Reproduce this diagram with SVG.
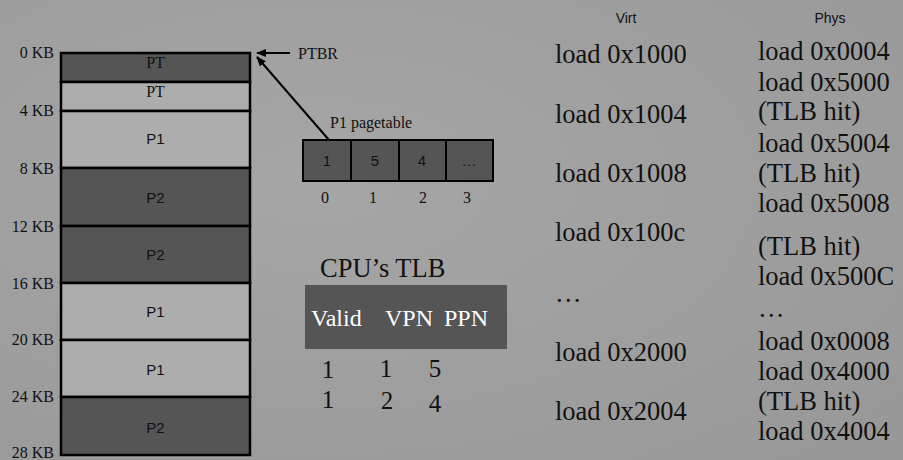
<svg xmlns="http://www.w3.org/2000/svg" width="903" height="460" viewBox="0 0 903 460">
<defs>
<radialGradient id="bg" cx="0.35" cy="0.4" r="0.8">
<stop offset="0" stop-color="#a6a6a6"/>
<stop offset="1" stop-color="#999999"/>
</radialGradient>
<marker id="ah" viewBox="0 0 10 10" refX="9" refY="5" markerWidth="10" markerHeight="10" markerUnits="userSpaceOnUse" orient="auto">
<path d="M0,1 L10,5 L0,9 Z" fill="#000"/>
</marker>
</defs>
<style>
.dark{fill:#555555;stroke:#000;stroke-width:2.5}
.light{fill:#adadad;stroke:#000;stroke-width:2.5}
.cell{fill:#555555;stroke:#000;stroke-width:2}
.serif{font-family:"Liberation Serif","Times New Roman",serif;fill:#111}
.sans{font-family:"Liberation Sans",Arial,sans-serif;fill:#111}
.kb{font-size:16px;text-anchor:end}
.pt{font-size:16px;text-anchor:middle}
.blk{font-size:15px;text-anchor:middle}
.big{font-size:26.5px}
.mid{text-anchor:middle}
.wht{fill:#ffffff}
.conn{stroke:#000;stroke-width:2;fill:none}
</style>
<rect width="903" height="460" fill="url(#bg)"/>

<g id="memory">
<rect class="dark" x="61" y="53" width="189" height="29"/>
<rect class="light" x="61" y="82" width="189" height="29"/>
<rect class="light" x="61" y="111" width="189" height="57"/>
<rect class="dark" x="61" y="168" width="189" height="58"/>
<rect class="dark" x="61" y="226" width="189" height="57"/>
<rect class="light" x="61" y="283" width="189" height="57"/>
<rect class="light" x="61" y="340" width="189" height="57"/>
<rect class="dark" x="61" y="397" width="189" height="58"/>
<text class="serif pt" x="155.5" y="68">PT</text>
<text class="serif pt" x="155.5" y="97">PT</text>
<text class="sans blk" x="155.5" y="144">P1</text>
<text class="sans blk" x="155.5" y="203">P2</text>
<text class="sans blk" x="155.5" y="260">P2</text>
<text class="sans blk" x="155.5" y="317">P1</text>
<text class="sans blk" x="155.5" y="375">P1</text>
<text class="sans blk" x="155.5" y="433">P2</text>
</g>

<g id="kb-labels">
<text class="serif kb" x="54" y="58">0 KB</text>
<text class="serif kb" x="54" y="116">4 KB</text>
<text class="serif kb" x="54" y="174">8 KB</text>
<text class="serif kb" x="54" y="232">12 KB</text>
<text class="serif kb" x="54" y="289">16 KB</text>
<text class="serif kb" x="54" y="345">20 KB</text>
<text class="serif kb" x="54" y="402">24 KB</text>
<text class="serif kb" x="54" y="458">28 KB</text>
</g>

<g id="ptbr">
<text class="serif" font-size="16" x="298" y="59">PTBR</text>
</g>

<g id="pagetable">
<text class="serif" font-size="16" x="330" y="128">P1 pagetable</text>
<rect class="cell" x="303" y="140" width="48" height="41"/>
<rect class="cell" x="351" y="140" width="48" height="41"/>
<rect class="cell" x="399" y="140" width="47" height="41"/>
<rect class="cell" x="446" y="140" width="47" height="41"/>
<text class="sans blk" x="327" y="166">1</text>
<text class="sans blk" x="375" y="166">5</text>
<text class="sans blk" x="422" y="166">4</text>
<text class="sans blk" x="469" y="166">…</text>
<text class="serif pt" x="325" y="203">0</text>
<text class="serif pt" x="373" y="203">1</text>
<text class="serif pt" x="423" y="203">2</text>
<text class="serif pt" x="467" y="203">3</text>
</g>

<g id="connectors">
<line class="conn" x1="290" y1="53" x2="257" y2="53" marker-end="url(#ah)"/>
<line class="conn" x1="329" y1="140" x2="257" y2="57" marker-end="url(#ah)"/>
</g>

<g id="tlb">
<text class="serif" font-size="26.5" x="320" y="277">CPU’s TLB</text>
<rect x="305" y="285" width="202" height="64" fill="#555555"/>
<text class="serif wht" font-size="24" x="311" y="326">Valid</text>
<text class="serif wht" font-size="24" x="385" y="326">VPN</text>
<text class="serif wht" font-size="24" x="444" y="326">PPN</text>
<text class="serif mid" font-size="25" x="328" y="378">1</text>
<text class="serif mid" font-size="25" x="386" y="377">1</text>
<text class="serif mid" font-size="25" x="435" y="377">5</text>
<text class="serif mid" font-size="25" x="328" y="408">1</text>
<text class="serif mid" font-size="25" x="387" y="409">2</text>
<text class="serif mid" font-size="25" x="435" y="412">4</text>
</g>

<g id="virt">
<text class="sans mid" font-size="14" x="626" y="23">Virt</text>
<text class="serif big" x="555" y="63">load 0x1000</text>
<text class="serif big" x="555" y="123">load 0x1004</text>
<text class="serif big" x="555" y="182">load 0x1008</text>
<text class="serif big" x="555" y="241">load 0x100c</text>
<text class="serif big" x="555" y="302">…</text>
<text class="serif big" x="555" y="361">load 0x2000</text>
<text class="serif big" x="555" y="420">load 0x2004</text>
</g>

<g id="phys">
<text class="sans mid" font-size="14" x="830" y="23">Phys</text>
<text class="serif big" x="758" y="60">load 0x0004</text>
<text class="serif big" x="758" y="91">load 0x5000</text>
<text class="serif big" x="758" y="120">(TLB hit)</text>
<text class="serif big" x="758" y="152">load 0x5004</text>
<text class="serif big" x="758" y="182">(TLB hit)</text>
<text class="serif big" x="758" y="212">load 0x5008</text>
<text class="serif big" x="758" y="255">(TLB hit)</text>
<text class="serif big" x="758" y="285">load 0x500C</text>
<text class="serif big" x="758" y="317">…</text>
<text class="serif big" x="758" y="350">load 0x0008</text>
<text class="serif big" x="758" y="380">load 0x4000</text>
<text class="serif big" x="758" y="410">(TLB hit)</text>
<text class="serif big" x="758" y="440">load 0x4004</text>
</g>
</svg>
